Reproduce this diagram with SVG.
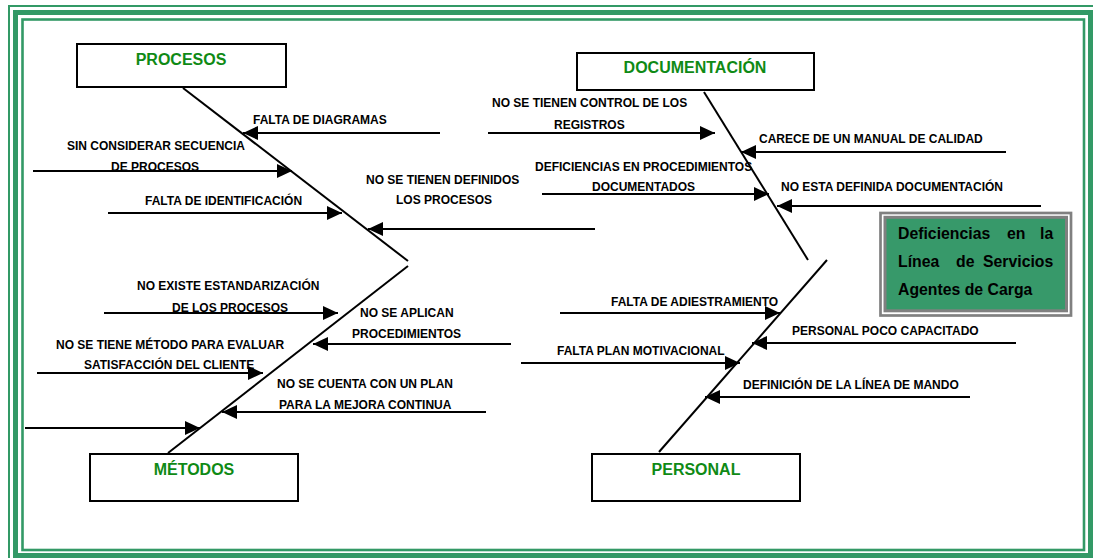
<svg xmlns="http://www.w3.org/2000/svg" width="1093" height="558" viewBox="0 0 1093 558">
  <defs>
    <style>
      .frame { fill: none; stroke: #339966; }
      .box { fill: #ffffff; stroke: #000000; stroke-width: 2; }
      .cat { font-family: "Liberation Sans", Arial, sans-serif; font-weight: bold; font-size: 16px; fill: #0f8a15; text-anchor: middle; }
      .lbl { font-family: "Liberation Sans", Arial, sans-serif; font-weight: bold; font-size: 12px; fill: #000000; }
      .head { font-family: "Liberation Sans", Arial, sans-serif; font-weight: bold; font-size: 15.8px; fill: #000000; }
      .bone { stroke: #000000; stroke-width: 2; fill: none; }
      .arr { stroke: #000000; stroke-width: 2; fill: none; marker-end: url(#ah); }
    </style>
    <marker id="ah" markerUnits="userSpaceOnUse" viewBox="0 0 15 14" refX="15" refY="7" markerWidth="15" markerHeight="14" orient="auto">
      <path d="M0,0 L15,7 L0,14 Z" fill="#000000"/>
    </marker>
  </defs>

  <rect width="1093" height="558" fill="#ffffff"/>

  <g id="frame">
    <rect class="frame" x="9" y="6" width="1100" height="570" stroke-width="2"/>
    <rect class="frame" x="15.5" y="12.5" width="1075" height="543" stroke-width="5"/>
    <rect class="frame" x="22.5" y="19.5" width="1061.5" height="530.5" stroke-width="2.6"/>
  </g>

  <g id="connectors">
    <line class="bone" x1="183" y1="88" x2="408" y2="261"/>
    <line class="bone" x1="408" y1="266" x2="168" y2="453"/>
    <line class="bone" x1="704" y1="92" x2="808" y2="260"/>
    <line class="bone" x1="827" y1="260" x2="659" y2="452"/>

    <line class="arr" x1="440" y1="133" x2="243" y2="133"/>
    <line class="arr" x1="33" y1="171" x2="292" y2="171"/>
    <line class="arr" x1="108" y1="213" x2="342" y2="213"/>
    <line class="arr" x1="595" y1="229" x2="368" y2="229"/>

    <line class="arr" x1="488" y1="133" x2="715" y2="133"/>
    <line class="arr" x1="1006" y1="152" x2="741" y2="152"/>
    <line class="arr" x1="542" y1="194" x2="769" y2="194"/>
    <line class="arr" x1="1041" y1="206" x2="777" y2="206"/>

    <line class="arr" x1="104" y1="313" x2="338" y2="313"/>
    <line class="arr" x1="511" y1="344" x2="313" y2="344"/>
    <line class="arr" x1="37" y1="373" x2="263" y2="373"/>
    <line class="arr" x1="486" y1="412" x2="222" y2="412"/>
    <line class="arr" x1="25" y1="428" x2="200" y2="428"/>

    <line class="arr" x1="560" y1="313" x2="780" y2="313"/>
    <line class="arr" x1="1016" y1="343" x2="752" y2="343"/>
    <line class="arr" x1="521" y1="363" x2="740" y2="363"/>
    <line class="arr" x1="970" y1="397" x2="705" y2="397"/>
  </g>

  <g id="procesos">
    <rect class="box" x="77" y="44" width="209" height="43"/>
    <text class="cat" x="181" y="65">PROCESOS</text>
  </g>
  <g id="documentacion">
    <rect class="box" x="577" y="53" width="237" height="37"/>
    <text class="cat" x="695" y="73">DOCUMENTACIÓN</text>
  </g>
  <g id="metodos">
    <rect class="box" x="90" y="454" width="208" height="47"/>
    <text class="cat" x="194" y="475">MÉTODOS</text>
  </g>
  <g id="personal">
    <rect class="box" x="592" y="454" width="208" height="47"/>
    <text class="cat" x="696" y="475">PERSONAL</text>
  </g>

  <g id="efecto">
    <rect x="880.5" y="213" width="190.5" height="102.5" fill="#ffffff" stroke="#808080" stroke-width="2.7"/>
    <rect x="885" y="217.3" width="181.5" height="93.5" fill="#37996a" stroke="#808080" stroke-width="3"/>
    <text class="head" x="898" y="239">Deficiencias</text>
    <text class="head" x="1007" y="239">en</text>
    <text class="head" x="1040" y="239">la</text>
    <text class="head" x="898" y="267">Línea</text>
    <text class="head" x="956" y="267">de</text>
    <text class="head" x="983" y="267">Servicios</text>
    <text class="head" x="898" y="295">Agentes de Carga</text>
  </g>

  <g id="causas-procesos">
    <text class="lbl" x="253" y="124">FALTA DE DIAGRAMAS</text>
    <text class="lbl" x="67" y="150">SIN CONSIDERAR SECUENCIA</text>
    <text class="lbl" x="111" y="171">DE PROCESOS</text>
    <text class="lbl" x="145" y="205">FALTA DE IDENTIFICACIÓN</text>
    <text class="lbl" x="366" y="184">NO SE TIENEN DEFINIDOS</text>
    <text class="lbl" x="396" y="204">LOS PROCESOS</text>
  </g>

  <g id="causas-documentacion">
    <text class="lbl" x="492" y="107">NO SE TIENEN CONTROL DE LOS</text>
    <text class="lbl" x="554" y="129">REGISTROS</text>
    <text class="lbl" x="759" y="143">CARECE DE UN MANUAL DE CALIDAD</text>
    <text class="lbl" x="535" y="171">DEFICIENCIAS EN PROCEDIMIENTOS</text>
    <text class="lbl" x="592" y="191">DOCUMENTADOS</text>
    <text class="lbl" x="781" y="191">NO ESTA DEFINIDA DOCUMENTACIÓN</text>
  </g>

  <g id="causas-metodos">
    <text class="lbl" x="137" y="290">NO EXISTE ESTANDARIZACIÓN</text>
    <text class="lbl" x="172" y="312">DE LOS PROCESOS</text>
    <text class="lbl" x="360" y="317">NO SE APLICAN</text>
    <text class="lbl" x="352" y="338">PROCEDIMIENTOS</text>
    <text class="lbl" x="56" y="349">NO SE TIENE MÉTODO PARA EVALUAR</text>
    <text class="lbl" x="84" y="369">SATISFACCIÓN DEL CLIENTE</text>
    <text class="lbl" x="277" y="388">NO SE CUENTA CON UN PLAN</text>
    <text class="lbl" x="279" y="409">PARA LA MEJORA CONTINUA</text>
  </g>

  <g id="causas-personal">
    <text class="lbl" x="611" y="306">FALTA DE ADIESTRAMIENTO</text>
    <text class="lbl" x="792" y="335">PERSONAL POCO CAPACITADO</text>
    <text class="lbl" x="557" y="355">FALTA PLAN MOTIVACIONAL</text>
    <text class="lbl" x="743" y="389">DEFINICIÓN DE LA LÍNEA DE MANDO</text>
  </g>
</svg>
